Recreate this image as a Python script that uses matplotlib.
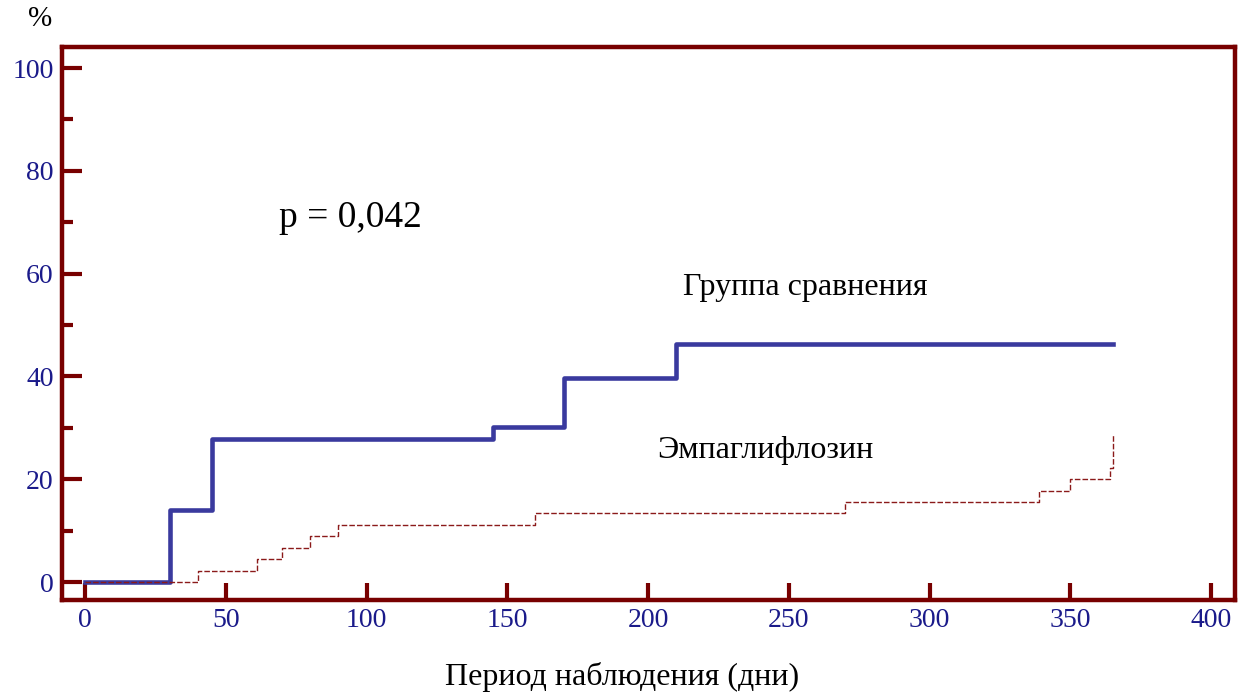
import matplotlib
matplotlib.use('Agg')
from matplotlib import pyplot as plt
from matplotlib.ticker import MultipleLocator

# data
days_control = [0, 30, 45, 145, 170, 210, 365]
pct_control = [0, 14.0, 27.8, 30.2, 39.6, 46.4, 46.4]
days_empa = [0, 40, 61, 70, 80, 90, 160, 270, 339, 350, 364, 365]
pct_empa = [0, 2.1, 4.4, 6.6, 8.9, 11.0, 13.4, 15.6, 17.8, 20.0, 22.2, 28.8]
x_ticks = [0, 50, 100, 150, 200, 250, 300, 350, 400]
y_ticks = [0, 20, 40, 60, 80, 100]

frame = '#780000'
label_col = '#1a1a8a'
plt.rcParams['font.family'] = ['Liberation Serif', 'DejaVu Serif']

fig = plt.figure(figsize=(12.48, 6.95), dpi=100)
ax = fig.add_axes([62/1248, 1 - 600/695, (1235 - 62)/1248, (600 - 47)/695])

ax.step(days_control, pct_control, where='post', color='#3a3a9e', lw=3.3, zorder=3)
ax.step(days_empa, pct_empa, where='post', color='#8b1a1a', lw=1.0,
        dashes=(4, 1.5), zorder=4)

ax.set_xlim(-8.2, 408.5)
ax.set_ylim(-3.5, 104.1)
ax.set_xticks(x_ticks)
ax.set_yticks(y_ticks)
ax.yaxis.set_minor_locator(MultipleLocator(10))

for s in ax.spines.values():
    s.set_color(frame)
    s.set_linewidth(3.2)

ax.tick_params(axis='both', which='both', direction='in', color=frame,
               labelcolor=label_col, labelsize=20, width=3)
ax.tick_params(axis='x', which='major', length=12, pad=6)
ax.tick_params(axis='y', which='major', length=14.5, pad=6)
ax.tick_params(axis='y', which='minor', length=8)

ax.text(69, 69, 'p = 0,042', fontsize=27, ha='left', va='baseline')
ax.text(212.4, 55.8, 'Группа сравнения', fontsize=23, ha='left', va='baseline')
ax.text(203.2, 24.1, 'Эмпаглифлозин', fontsize=23, ha='left', va='baseline')

fig.text(622/1248, 1 - 677/695, 'Период наблюдения (дни)', fontsize=23,
         ha='center', va='center')
fig.text(40/1248, 1 - 19/695, '%', fontsize=21, ha='center', va='center')

fig.savefig('out.png', dpi=100)
